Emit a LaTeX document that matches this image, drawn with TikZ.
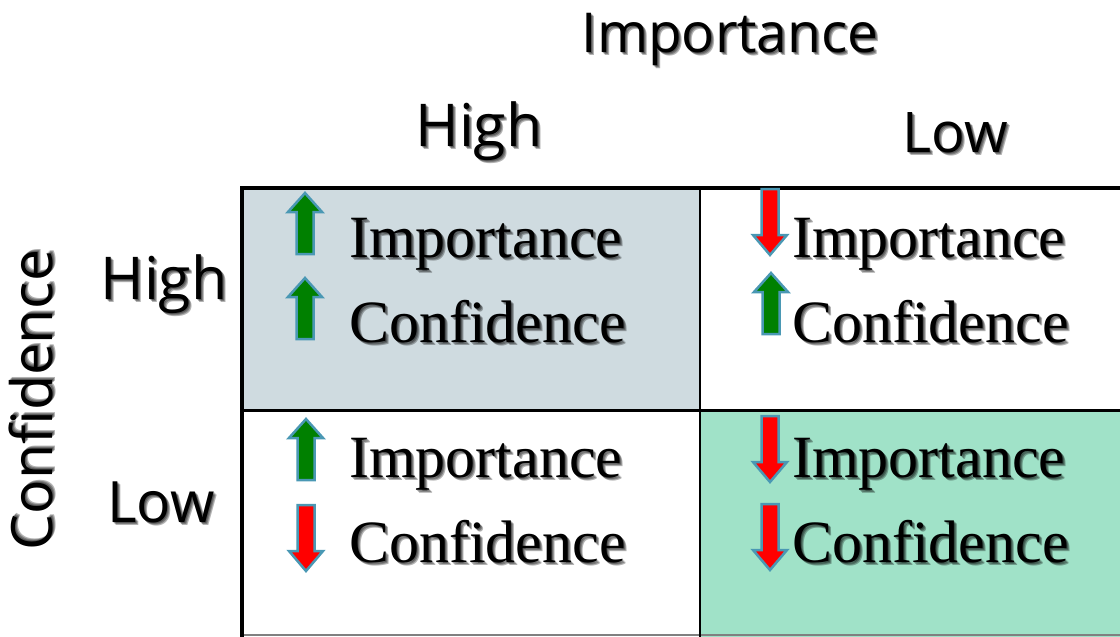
\documentclass[tikz,border=0pt]{standalone}
\usepackage{fontspec}
\setmainfont{Liberation Serif}
\newfontfamily\headfont{Open Sans}

\definecolor{hhfill}{RGB}{207,219,224}
\definecolor{llfill}{RGB}{160,226,200}
\definecolor{arrowrim}{RGB}{74,152,180}
\definecolor{upgreen}{RGB}{0,128,0}
\definecolor{downred}{RGB}{255,0,0}

\tikzset{
    celltext/.style={anchor=base west, inner sep=0pt, font=\fontsize{60}{70}\selectfont},
    headtext/.style={anchor=base, inner sep=0pt, font=\headfont\fontsize{#1}{#1}\selectfont},
    headtext/.default=55,
    arrowbox/.style={draw=arrowrim, line width=2.5pt, line join=miter},
}

% up arrow: centre x, top y
\newcommand{\upArrow}[2]{\filldraw[arrowbox, fill=upgreen] (#1,#2) -- ++(17,19) -- ++(-8.5,0) -- ++(0,42) -- ++(-17,0) -- ++(0,-42) -- ++(-8.5,0) -- cycle;}
% down arrow: centre x, top y
\newcommand{\downArrow}[2]{\filldraw[arrowbox, fill=downred] (#1,#2) ++(-8.5,0) -- ++(17,0) -- ++(0,46) -- ++(8.5,0) -- ++(-17,20) -- ++(-17,-20) -- ++(8.5,0) -- cycle;}

% text with a soft grey drop shadow
\newcommand{\shadowNode}[4]{%
    \foreach \d in {1,2,3}
        \node[#2, text=black, opacity=0.3, xshift=\d pt, yshift=-\d pt] at (#3) {#4};
    \node[#2] (#1) at (#3) {#4};}

\begin{document}
\begin{tikzpicture}[x=1pt, y=-1pt]
    \useasboundingbox (0,0) rectangle (1120,637);

    % shaded cells
    \fill[hhfill] (242,188) rectangle (700,410);
    \fill[llfill] (700,410) rectangle (1120,637);

    % grid
    \draw[gray, line width=1.5pt] (242,635) -- (1120,635);
    \draw[line width=2pt] (700,188) -- (700,637);
    \draw[line width=3pt] (242,410) -- (1120,410);
    \draw[line width=4pt] (240,188) -- (1120,188);
    \draw[line width=4pt] (242,186) -- (242,637);

    % axis headings
    \shadowNode{impHead}{headtext=55}{730,52}{Importance}
    \shadowNode{impHigh}{headtext=59}{479,146}{High}
    \shadowNode{impLow}{headtext=56}{955,152}{Low}
    \shadowNode{confHigh}{headtext=59}{164,299}{High}
    \shadowNode{confLow}{headtext=57}{161,522}{Low}
    \shadowNode{confHead}{headtext=57, rotate=90}{52,400}{Confidence}

    % high importance, high confidence
    \upArrow{305}{193}
    \upArrow{305}{278}
    \shadowNode{hhImp}{celltext}{349,257}{Importance}
    \shadowNode{hhConf}{celltext}{349,342}{Confidence}

    % low importance, high confidence
    \downArrow{770}{189}
    \upArrow{771}{273}
    \shadowNode{lhImp}{celltext}{792,257}{Importance}
    \shadowNode{lhConf}{celltext}{792,342}{Confidence}

    % high importance, low confidence
    \upArrow{306}{419}
    \downArrow{306}{505}
    \shadowNode{hlImp}{celltext}{349,477}{Importance}
    \shadowNode{hlConf}{celltext}{349,562}{Confidence}

    % low importance, low confidence
    \downArrow{770}{416}
    \downArrow{770}{504}
    \shadowNode{llImp}{celltext}{792,477}{Importance}
    \shadowNode{llConf}{celltext}{792,562}{Confidence}
\end{tikzpicture}
\end{document}
